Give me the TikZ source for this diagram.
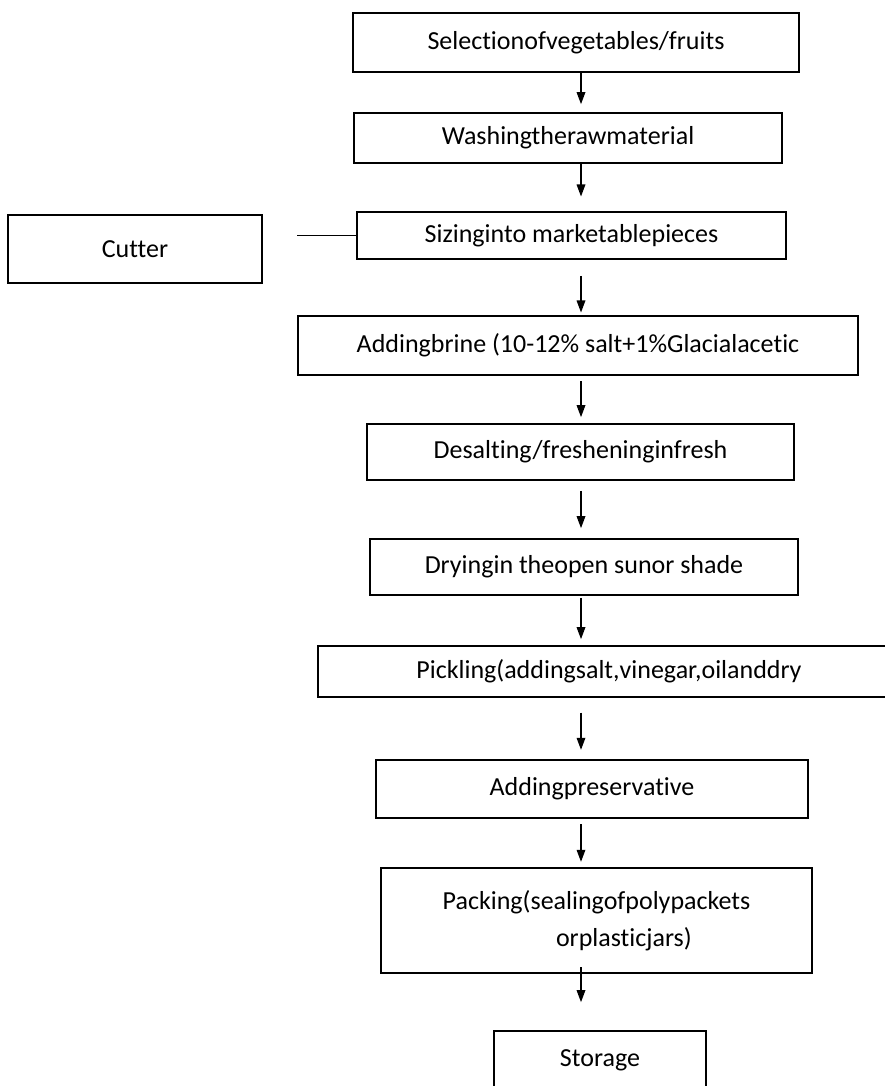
\documentclass[tikz,border=0pt]{standalone}
\usepackage{fontspec}
\setmainfont{Carlito}[Ligatures=NoCommon]
\usetikzlibrary{arrows.meta}

\tikzset{
	stepbox/.style={draw,line width=1.3pt,inner sep=0pt},
	flow/.style={line width=.9pt,-{Triangle[length=9pt,width=6.5pt]}}
}

\begin{document}
\begin{tikzpicture}[x=.75pt,y=-.75pt,font=\fontsize{19.5}{28}\selectfont]
			\useasboundingbox (0,0) rectangle (885,1086);
			\clip (0,0) rectangle (885,1086);

			\node[stepbox,minimum width=334.5pt,minimum height=44.25pt] (sel) at (576,42.5) {Selectionofvegetables/fruits};
			\node[stepbox,minimum width=321pt,minimum height=37.5pt] (wash) at (568,138) {Washingtherawmaterial};
			\node[stepbox,minimum width=321.75pt,minimum height=35.25pt] (size) at (571.5,235.5) {Sizinginto marketablepieces};
			\node[stepbox,minimum width=190.5pt,minimum height=51pt] (cut) at (135,249) {Cutter};
			\node[stepbox,minimum width=420pt,minimum height=44.25pt] (brine) at (578,345.5) {Addingbrine (10-12\% salt+1\%Glacialacetic};
			\node[stepbox,minimum width=320.25pt,minimum height=42pt] (desalt) at (580.5,452) {Desalting/fresheninginfresh};
			\node[stepbox,minimum width=321pt,minimum height=42pt] (dry) at (584,567) {Dryingin theopen sunor shade};
			\node[stepbox,minimum width=436.5pt,minimum height=38.25pt] (pickle) at (609,671.5) {Pickling(addingsalt,vinegar,oilanddry};
			\node[stepbox,minimum width=324pt,minimum height=43.5pt] (pres) at (592,789) {Addingpreservative};
			\node[stepbox,minimum width=323.25pt,minimum height=78.75pt,align=left] (pack) at (596.5,920.5) {Packing(sealingofpolypackets\\\hspace*{85pt}orplasticjars)};
			\node[stepbox,minimum width=159pt,minimum height=44.25pt] (store) at (600,1060.5) {Storage};

			\coordinate (ax) at (581,0);
			\draw[flow,shorten >=6pt] (sel.south -| ax) -- (wash.north -| ax);
			\draw[flow,shorten >=11pt] (wash.south -| ax) -- (size.north -| ax);
			\draw[flow,shorten <=12pt,shorten >=2pt] (size.south -| ax) -- (brine.north -| ax);
			\draw[flow,shorten <=4pt,shorten >=4.5pt] (brine.south -| ax) -- (desalt.north -| ax);
			\draw[flow,shorten <=7.5pt,shorten >=7.5pt] (desalt.south -| ax) -- (dry.north -| ax);
			\draw[flow,shorten <=1.5pt,shorten >=4.5pt] (dry.south -| ax) -- (pickle.north -| ax);
			\draw[flow,shorten <=11pt,shorten >=7pt] (pickle.south -| ax) -- (pres.north -| ax);
			\draw[flow,shorten <=4pt,shorten >=4pt] (pres.south -| ax) -- (pack.north -| ax);
			\draw[flow,shorten <=-5pt,shorten >=21pt] (pack.south -| ax) -- (store.north -| ax);

			\draw[line width=1.1pt,shorten >=25.5pt] (size.west) -- (cut.east |- size.west);
		\end{tikzpicture}
\end{document}
